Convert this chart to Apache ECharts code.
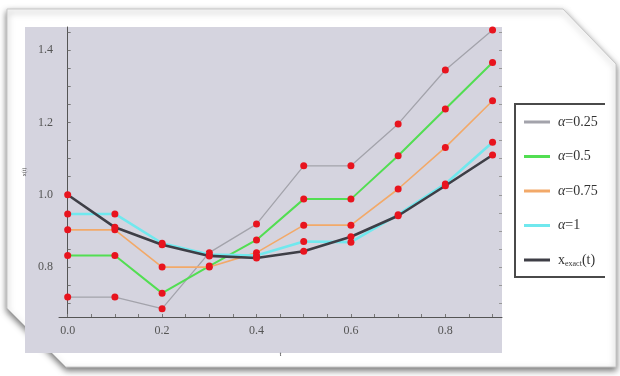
<!DOCTYPE html>
<html>
<head>
<meta charset="utf-8">
<script src="https://cdn.jsdelivr.net/npm/echarts@6/dist/echarts.min.js"></script>
<style>
    html,body{margin:0;padding:0;background:#fff;}
    #chart{width:620px;height:376px;}
</style>
</head>
<body>
<div id="chart"></div>
<script>
// t values
const tValues = [0, 0.1, 0.2, 0.3, 0.4, 0.5, 0.6, 0.7, 0.8, 0.9]
// series values
const alpha025 = [0.717, 0.717, 0.685, 0.840, 0.919, 1.080, 1.080, 1.196, 1.345, 1.456]
const alpha05 = [0.832, 0.832, 0.728, 0.803, 0.875, 0.988, 0.988, 1.108, 1.237, 1.366]
const alpha075 = [0.903, 0.903, 0.800, 0.800, 0.840, 0.916, 0.916, 1.016, 1.131, 1.260]
const alpha1 = [0.947, 0.947, 0.866, 0.835, 0.832, 0.871, 0.869, 0.945, 1.030, 1.145]
const xExact = [1.000, 0.910, 0.862, 0.831, 0.825, 0.844, 0.884, 0.942, 1.025, 1.110]
// tick labels
const xTickLabels = [0, 0.2, 0.4, 0.6, 0.8]
const yTickLabels = [0.8, 1.0, 1.2, 1.4]
const xMinorTicks = [0, 0.05, 0.1, 0.15, 0.2, 0.25, 0.3, 0.35, 0.4, 0.45, 0.5, 0.55, 0.6, 0.65, 0.7, 0.75, 0.8, 0.85, 0.9]
const yMinorTicks = [0.7, 0.75, 0.8, 0.85, 0.9, 0.95, 1.0, 1.05, 1.1, 1.15, 1.2, 1.25, 1.3, 1.35, 1.4, 1.45]

const seriesNames = ['a025', 'a05', 'a075', 'a1', 'exact']
const seriesLabels = ['{i|α}{n|=0.25}', '{i|α}{n|=0.5}', '{i|α}{n|=0.75}', '{i|α}{n|=1}', '{n|x}{s|exact}{n|(t)}']
const seriesData = [alpha025, alpha05, alpha075, alpha1, xExact]
const lineColors = ['#a3a3ab', '#52de52', '#f2a969', '#70e8ee', '#3e3e46']
const lineWidths = [1.3, 2, 1.6, 2.6, 2.6]

const serif = '"Liberation Serif", "DejaVu Serif", serif'

let chart = echarts.init(document.getElementById('chart'), null, {renderer: 'canvas'})

let series = seriesData.map((vals, i) => {
    return {
        name: seriesNames[i],
        type: 'line',
        data: tValues.map((t, k) => [t, vals[k]]),
        symbol: 'circle',
        symbolSize: 7,
        showSymbol: true,
        itemStyle: {color: '#e8141e'},
        lineStyle: {color: lineColors[i], width: lineWidths[i]},
        z: 2 + i,
        animation: false
    }
})

let option = {
    backgroundColor: '#fff',
    animation: false,
    graphic: [
        // white framed panel with cut corners
        {
            type: 'polygon',
            z: -10,
            shape: {points: [[7, 9], [563, 9], [616, 64], [616, 367], [66, 367], [7, 308]]},
            style: {
                fill: '#fff',
                stroke: '#c8c8c8',
                lineWidth: 1,
                shadowBlur: 6,
                shadowOffsetY: 3,
                shadowColor: 'rgba(0,0,0,0.55)'
            }
        },
        // plot background
        {
            type: 'rect',
            z: -9,
            shape: {x: 25, y: 27, width: 477, height: 326},
            style: {fill: '#d5d4df'}
        },
        // legend frame (left, top, bottom)
        {
            type: 'polyline',
            z: 10,
            shape: {points: [[605, 104], [515, 104], [515, 277], [605, 277]]},
            style: {stroke: '#4a4a4a', lineWidth: 2, fill: null}
        }
    ],
    grid: {
        left: 59,
        top: 27,
        right: 118,
        bottom: 59,
        containLabel: false
    },
    legend: {
        orient: 'vertical',
        left: 524,
        top: 114,
        padding: 0,
        icon: 'rect',
        itemWidth: 26,
        itemHeight: 3,
        itemGap: 18.5,
        data: seriesNames.map((n, i) => ({name: n, itemStyle: {color: lineColors[i]}})),
        formatter: (name) => seriesLabels[seriesNames.indexOf(name)],
        textStyle: {
            fontFamily: serif,
            fontSize: 14,
            color: '#333',
            lineHeight: 16,
            padding: [0, 0, 0, 3],
            rich: {
                i: {fontFamily: serif, fontStyle: 'italic', fontSize: 14, color: '#333'},
                n: {fontFamily: serif, fontSize: 14, color: '#333'},
                s: {fontFamily: serif, fontSize: 8, color: '#333', verticalAlign: 'bottom', padding: [6, 0, 0, 0]}
            }
        }
    },
    xAxis: {
        type: 'value',
        min: -0.0184,
        max: 0.92,
        name: 't',
        nameLocation: 'middle',
        nameGap: 34,
        nameTextStyle: {fontFamily: serif, fontSize: 7, color: '#333'},
        axisLine: {show: true, onZero: false, lineStyle: {color: '#555', width: 1}},
        axisTick: {show: true, inside: true, length: 3, customValues: xMinorTicks, lineStyle: {color: '#777'}},
        axisLabel: {
            customValues: xTickLabels,
            formatter: (v) => v.toFixed(1),
            fontFamily: serif,
            fontSize: 12,
            color: '#555',
            margin: 8
        },
        splitLine: {show: false}
    },
    yAxis: [
        {
            type: 'value',
            min: 0.662,
            max: 1.464,
            name: 'x(t)',
            nameLocation: 'middle',
            nameGap: 32,
            nameRotate: 90,
            nameTextStyle: {fontFamily: serif, fontSize: 6, color: '#444'},
            axisLine: {show: true, lineStyle: {color: '#555', width: 1}},
            axisTick: {show: true, inside: true, length: 3, customValues: yMinorTicks, lineStyle: {color: '#777'}},
            axisLabel: {
                customValues: yTickLabels,
                formatter: (v) => v.toFixed(1),
                fontFamily: serif,
                fontSize: 12,
                color: '#555',
                margin: 6
            },
            splitLine: {show: false}
        },
        {
            // right side ticks only
            type: 'value',
            position: 'right',
            min: 0.662,
            max: 1.464,
            axisLine: {show: false},
            axisTick: {show: true, inside: true, length: 3, customValues: yMinorTicks, lineStyle: {color: '#999'}},
            axisLabel: {show: false},
            splitLine: {show: false}
        }
    ],
    series: series
}

chart.setOption(option)
</script>
</body>
</html>
